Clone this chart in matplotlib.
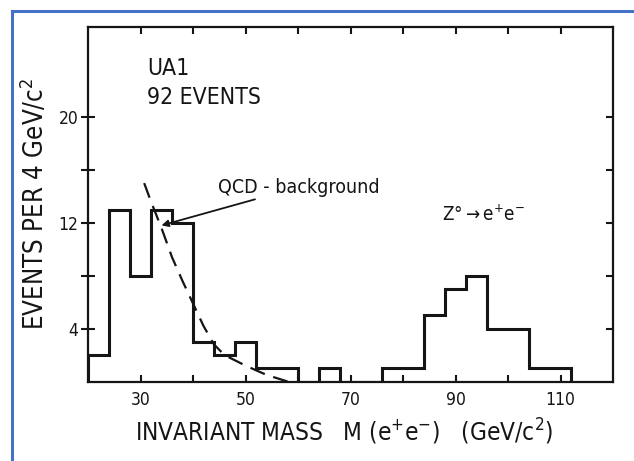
import matplotlib
matplotlib.use("Agg")
import matplotlib.pyplot as plt
from matplotlib.lines import Line2D

# Histogram of e+e- invariant mass, 4 GeV/c^2 bins
bin_edges = list(range(20, 116, 4))
counts = [2, 13, 8, 13, 12, 3, 2, 3, 1, 1, 0, 1, 0, 0, 1, 1, 5, 7, 8, 4, 4, 1, 1]

# QCD background estimate (dashed curve)
qcd_mass = [30.7, 32, 34, 36, 38, 40, 42, 44, 46, 48, 50, 52, 54, 56, 58]
qcd_events = [15.0, 13.6, 11.6, 9.4, 7.6, 5.9, 4.2, 2.8, 2.0, 1.6, 1.2, 0.85, 0.5, 0.25, 0.0]

x_ticks = [30, 40, 50, 60, 70, 80, 90, 100, 110]
x_tick_labels = ["30", "", "50", "", "70", "", "90", "", "110"]
y_ticks = [4, 8, 12, 16, 20]
y_tick_labels = ["4", "", "12", "", "20"]

plt.rcParams["font.family"] = ["DejaVu Sans"]
plt.rcParams["font.stretch"] = "condensed"
ink = "#151515"

fig = plt.figure(figsize=(6.34, 4.61), dpi=100)
ax = fig.add_axes([88 / 634, 1 - 381.5 / 461, (613 - 88) / 634, (381.5 - 27) / 461])

ax.stairs(counts, bin_edges, baseline=0, color=ink, linewidth=2.2)
ax.plot(qcd_mass, qcd_events, color=ink, linewidth=1.6, dashes=(7, 4))

ax.set_xlim(20, 120)
ax.set_ylim(0, 26.8)

for side in ax.spines.values():
    side.set_linewidth(1.6)
    side.set_color(ink)

ax.set_xticks(x_ticks)
ax.set_xticklabels(x_tick_labels, fontsize=12.5, color=ink)
ax.set_yticks(y_ticks)
ax.set_yticklabels(y_tick_labels, fontsize=12.5, color=ink)
ax.tick_params(axis="x", direction="in", length=5, width=1.5, pad=7,
               top=True, color=ink)
ax.tick_params(axis="y", direction="in", length=5, width=1.5, pad=7,
               right=True, color=ink)
# left ticks cross the axis line
for tk in ax.yaxis.get_major_ticks():
    tk.tick1line.set_marker("_")
    tk.tick1line.set_markersize(10)

ax.set_xlabel("INVARIANT MASS   M (e$^{+}$e$^{-}$)   (GeV/c$^{2}$)",
              fontsize=17.5, color=ink, labelpad=6)
ax.xaxis.set_label_coords(0.488, -0.1)
ax.xaxis.label.set_va("top")
ax.set_ylabel("EVENTS PER 4 GeV/c$^{2}$", fontsize=18.5, color=ink, labelpad=6)

ax.text(31.2, 23.7, "UA1", fontsize=16.5, color=ink, va="center", ha="left")
ax.text(31.2, 21.5, "92 EVENTS", fontsize=16.5, color=ink, va="center", ha="left")
ax.annotate("QCD - background", xy=(34.0, 11.8), xytext=(44.8, 14.7),
            fontsize=14, color=ink, va="center", ha="left",
            arrowprops=dict(arrowstyle="-|>", color=ink, lw=1.3,
                            shrinkA=0, shrinkB=0, mutation_scale=10))
ax.text(87.4, 12.6, "Z°$\\rightarrow$e$^{+}$e$^{-}$", fontsize=13.5,
        color=ink, va="center", ha="left")

# blue frame around the figure
blue = "#4472c4"
fig.add_artist(Line2D([11.5 / 634, 11.5 / 634], [0, 1 - 11.5 / 461],
                      transform=fig.transFigure, color=blue, linewidth=2.2))
fig.add_artist(Line2D([11.5 / 634, 1], [1 - 11.5 / 461, 1 - 11.5 / 461],
                      transform=fig.transFigure, color=blue, linewidth=2.2))

fig.savefig("out.png", dpi=100)
